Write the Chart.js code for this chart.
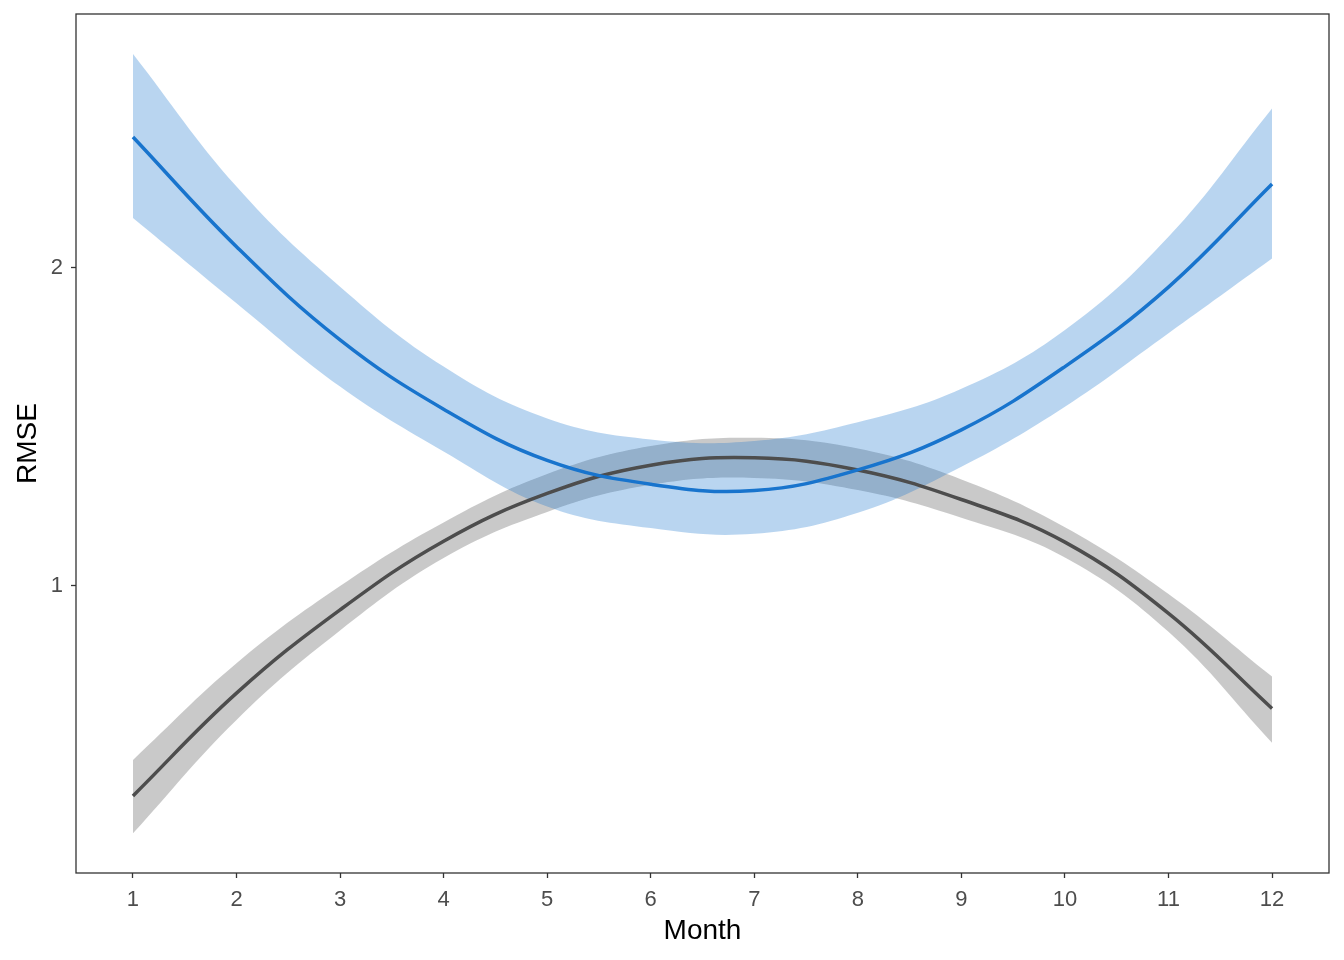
<!DOCTYPE html>
<html>
<head>
<meta charset="utf-8">
<script src="https://cdn.jsdelivr.net/npm/chart.js@4/dist/chart.umd.min.js"></script>
<style>
  html, body { margin: 0; padding: 0; background: #fff; }
  #wrap { width: 1344px; height: 960px; }
</style>
</head>
<body>
<div id="wrap"><canvas id="grafico" width="1344" height="960"></canvas></div>
<script>
// valores (mês 1..12)
const meses = [1, 2, 3, 4, 5, 6, 7, 8, 9, 10, 11, 12];

const cinzaLinha    = [0.340, 0.663, 0.925, 1.141, 1.291, 1.380, 1.403, 1.365, 1.272, 1.138, 0.914, 0.615];
const cinzaSuperior = [0.453, 0.757, 1.000, 1.200, 1.352, 1.440, 1.466, 1.432, 1.335, 1.185, 0.975, 0.715];
const cinzaInferior = [0.222, 0.579, 0.860, 1.088, 1.233, 1.318, 1.340, 1.302, 1.215, 1.090, 0.856, 0.507];

const azulLinha    = [2.412, 2.067, 1.774, 1.556, 1.395, 1.320, 1.300, 1.365, 1.491, 1.690, 1.940, 2.264];
const azulSuperior = [2.673, 2.256, 1.941, 1.690, 1.527, 1.461, 1.456, 1.515, 1.620, 1.805, 2.098, 2.502];
const azulInferior = [2.157, 1.889, 1.627, 1.423, 1.250, 1.182, 1.164, 1.230, 1.375, 1.564, 1.795, 2.030];

const ticksY = [1, 2];

function pontos(valores) {
  return meses.map((m, i) => ({ x: m, y: valores[i] }));
}

// moldura do painel (estilo theme_bw)
const moldura = {
  id: 'moldura',
  afterDraw(chart) {
    const { ctx, chartArea: a } = chart;
    ctx.save();
    ctx.strokeStyle = '#333333';
    ctx.lineWidth = 1.3;
    ctx.strokeRect(a.left, a.top, a.right - a.left, a.bottom - a.top);
    ctx.restore();
  }
};

const base = { pointRadius: 0, pointHoverRadius: 0, tension: 0.4 };
const fonte = 'Liberation Sans, Arial, sans-serif';

new Chart(document.getElementById('grafico').getContext('2d'), {
  type: 'line',
  data: {
    datasets: [
      { ...base, data: pontos(cinzaInferior), borderWidth: 0, fill: false, order: 5 },
      { ...base, data: pontos(cinzaSuperior), borderWidth: 0, fill: '-1', backgroundColor: 'rgba(77,77,77,0.3)', order: 4 },
      { ...base, data: pontos(azulInferior), borderWidth: 0, fill: false, order: 3 },
      { ...base, data: pontos(azulSuperior), borderWidth: 0, fill: '-1', backgroundColor: 'rgba(24,116,205,0.3)', order: 2 },
      { ...base, data: pontos(cinzaLinha), borderColor: '#4D4D4D', borderWidth: 3.5, fill: false, order: 1 },
      { ...base, data: pontos(azulLinha), borderColor: '#1874CD', borderWidth: 3.5, fill: false, order: 0 }
    ]
  },
  options: {
    responsive: false,
    animation: false,
    layout: { padding: { top: 14, right: 15, left: 0, bottom: 0 } },
    plugins: {
      legend: { display: false },
      tooltip: { enabled: false }
    },
    scales: {
      x: {
        type: 'linear',
        min: 0.45,
        max: 12.55,
        afterBuildTicks: (s) => { s.ticks = meses.map(v => ({ value: v })); },
        afterFit: (s) => { s.height = 87; s.paddingLeft = 0; s.paddingRight = 0; },
        grid: { drawOnChartArea: false, drawTicks: true, tickLength: 5, color: '#333333', tickWidth: 1.3 },
        border: { display: false },
        ticks: { color: '#4D4D4D', font: { family: fonte, size: 22 }, padding: 9, maxRotation: 0 },
        title: { display: true, text: 'Month', color: '#000', font: { family: fonte, size: 28 }, padding: { top: 0, bottom: 12 } }
      },
      y: {
        type: 'linear',
        min: 0.0975,
        max: 2.7987,
        afterBuildTicks: (s) => { s.ticks = ticksY.map(v => ({ value: v })); },
        afterFit: (s) => { s.width = 76; s.paddingTop = 0; s.paddingBottom = 0; },
        grid: { drawOnChartArea: false, drawTicks: true, tickLength: 5, color: '#333333', tickWidth: 1.3 },
        border: { display: false },
        ticks: { color: '#4D4D4D', font: { family: fonte, size: 22 }, padding: 8 },
        title: { display: true, text: 'RMSE', color: '#000', font: { family: fonte, size: 28 }, padding: { top: 11, bottom: 0 } }
      }
    }
  },
  plugins: [moldura]
});
</script>
</body>
</html>
